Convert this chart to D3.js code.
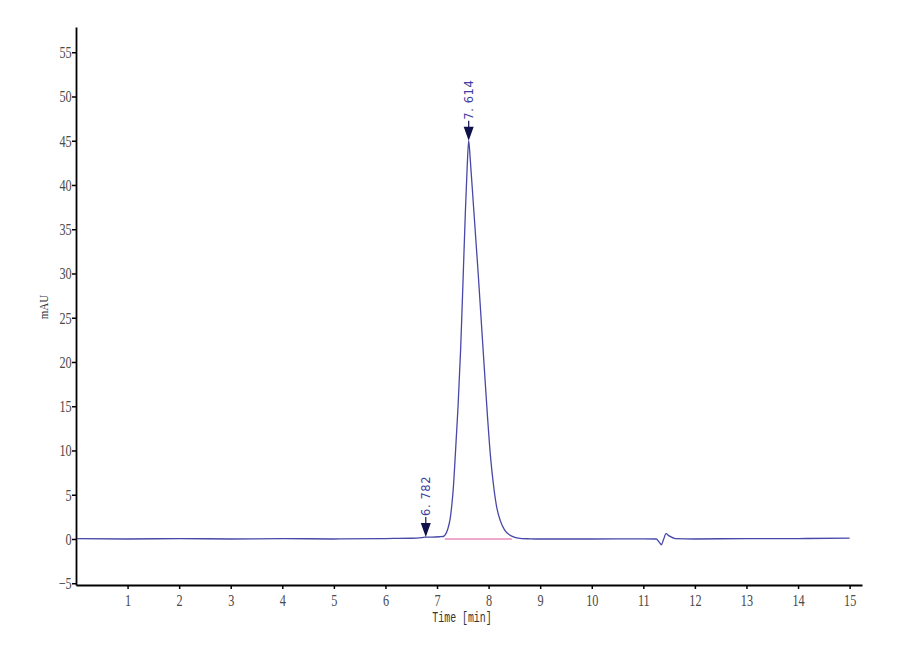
<!DOCTYPE html>
<html>
<head>
<meta charset="utf-8">
<script src="https://cdn.jsdelivr.net/npm/d3@7"></script>
<style>
  body { margin: 0; background: #fff; }
  svg { display: block; }
</style>
</head>
<body>
<div id="chart"></div>
<script>
// chromatogram trace, time in min / signal in mAU
const times = [
  0.02, 1, 2, 3, 4, 5, 6, 6.5, 6.7, 6.78, 6.9, 7.05, 7.12,
  7.158, 7.207, 7.255, 7.288, 7.319, 7.346, 7.375, 7.408, 7.459, 7.505, 7.55, 7.583, 7.614,
  7.643, 7.705, 7.798, 7.889, 7.979, 8.037, 8.099, 8.157, 8.225, 8.312, 8.409, 8.525, 8.642,
  8.8, 9, 10, 11, 11.25, 11.3, 11.35, 11.39, 11.44, 11.5, 11.62, 12, 13, 14, 15
];
const signal = [
  0.05, 0.0, 0.05, 0.0, 0.05, 0.0, 0.05, 0.08, 0.15, 0.22, 0.22, 0.25, 0.28,
  0.45, 1.1, 2.3, 3.9, 6.0, 8.6, 11.6, 15.0, 21.6, 29.3, 37.0, 41.8, 45.0,
  43.0, 37.8, 30.0, 21.8, 13.8, 9.3, 5.9, 3.6, 2.1, 1.0, 0.45, 0.15, 0.05,
  0.02, 0.0, 0.0, 0.02, 0.0, -0.3, -0.65, -0.1, 0.6, 0.35, 0.05, 0.0, 0.05, 0.05, 0.1
];

// peak markers
const peakTimes = [6.782, 7.614];
const peakHeights = [0.22, 45.0];
const peakLabels = ["6. 782", "7. 614"];

// integration baseline under the main peak
const baseTimes = [7.15, 8.45];
const baseValues = [0, 0];

const xTicks = [1, 2, 3, 4, 5, 6, 7, 8, 9, 10, 11, 12, 13, 14, 15];
const yTicks = [-5, 0, 5, 10, 15, 20, 25, 30, 35, 40, 45, 50, 55];

let width = 900;
let height = 660;
let margin = { left: 76, right: 38, top: 27, bottom: 75 };

let svg = d3.select("#chart").append("svg")
  .attr("width", width)
  .attr("height", height);

let x = d3.scaleLinear().domain([0, 15.24]).range([margin.left, width - margin.right]);
let y = d3.scaleLinear().domain([-5.2, 57.85]).range([height - margin.bottom, margin.top]);

let tickFont = "'Liberation Serif', 'DejaVu Serif', serif";

// axes
let xAxis = svg.append("g")
  .attr("transform", `translate(0, ${height - margin.bottom})`)
  .call(d3.axisBottom(x).tickValues(xTicks).tickFormat(d3.format("d"))
    .tickSize(4).tickSizeOuter(0).tickPadding(5));

let yAxis = svg.append("g")
  .attr("transform", `translate(${margin.left}, 0)`)
  .call(d3.axisLeft(y).tickValues(yTicks).tickFormat(d3.format("d"))
    .tickSize(4).tickSizeOuter(0).tickPadding(2));

[xAxis, yAxis].forEach((g) => {
  g.select(".domain").attr("stroke", "#000").attr("stroke-width", 1.8);
  g.selectAll(".tick line").attr("stroke", "#000").attr("stroke-width", 1.5);
  g.selectAll(".tick text")
    .attr("fill", "#4a4a4a")
    .attr("transform", "scale(0.72,1)")
    .style("font-family", tickFont)
    .style("font-size", "17px");
});

// axis titles
svg.append("text")
  .attr("transform", `translate(48, 307) rotate(-90) scale(0.85,1)`)
  .attr("text-anchor", "middle")
  .attr("fill", "#333")
  .style("font-family", tickFont)
  .style("font-size", "13px")
  .text("mAU");

svg.append("text")
  .attr("transform", `translate(462, 622) scale(0.66,1)`)
  .attr("text-anchor", "middle")
  .attr("fill", "#333")
  .style("font-family", "'Liberation Mono', 'DejaVu Sans Mono', monospace")
  .style("font-size", "15px")
  .text("Time [min]");

// baseline of integration
svg.append("path")
  .datum(d3.zip(baseTimes, baseValues))
  .attr("fill", "none")
  .attr("stroke", "#e0559a")
  .attr("stroke-width", 1.2)
  .attr("d", d3.line().x((d) => x(d[0])).y((d) => y(d[1])));

// trace
let line = d3.line()
  .x((d) => x(d[0]))
  .y((d) => y(d[1]))
  .curve(d3.curveMonotoneX);

svg.append("path")
  .datum(d3.zip(times, signal))
  .attr("fill", "none")
  .attr("stroke", "#4848a8")
  .attr("stroke-width", 1.3)
  .attr("d", line);

// peak arrows and labels
let peaks = d3.zip(peakTimes, peakHeights, peakLabels);

let marks = svg.selectAll(".peak")
  .data(peaks)
  .enter()
  .append("g")
  .attr("class", "peak")
  .attr("transform", (d) => `translate(${x(d[0])}, ${y(d[1])})`);

marks.append("line")
  .attr("x1", 0).attr("x2", 0)
  .attr("y1", -20).attr("y2", -12)
  .attr("stroke", "#10104a")
  .attr("stroke-width", 1.2);

marks.append("path")
  .attr("d", "M-5,-14 L5,-14 L0,0 Z")
  .attr("fill", "#10104a");

marks.append("text")
  .attr("transform", "translate(0, -21) rotate(-90)")
  .attr("text-anchor", "start")
  .attr("dominant-baseline", "central")
  .attr("fill", "#4040a0")
  .style("font-family", "'DejaVu Sans', sans-serif")
  .style("font-size", "11.5px")
  .style("letter-spacing", "0.6px")
  .text((d) => d[2]);
</script>
</body>
</html>
